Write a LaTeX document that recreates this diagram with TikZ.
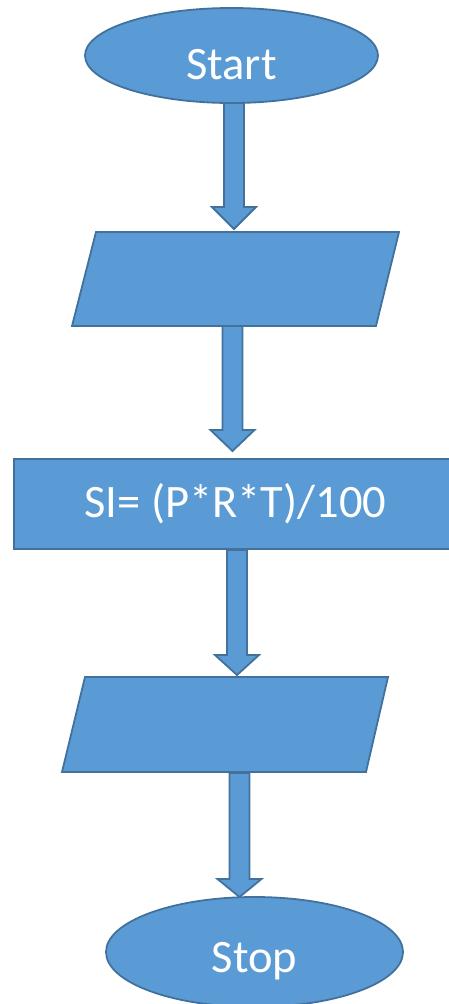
\documentclass[tikz,border=0pt]{standalone}
\usepackage{fontspec}
\setmainfont{Carlito}
\usetikzlibrary{shapes.geometric}
\definecolor{ofill}{HTML}{5B9BD5}
\definecolor{oline}{HTML}{41719C}
\begin{document}
\begin{tikzpicture}[x=1pt,y=-1pt,
  shapebox/.style={fill=ofill,draw=oline,line width=1.8pt,line join=miter},
  lbl/.style={text=white,font=\fontsize{46.5}{52}\selectfont,anchor=base,inner sep=0pt}]
\useasboundingbox (0,0) rectangle (448,1004);
% Start
\node[shapebox,ellipse,minimum width=293pt,minimum height=95pt,inner sep=0pt] (start) at (231.5,55.5) {};
\node[lbl] (starttxt) at (231.5,79) {Start};
% input parallelogram
\coordinate (p1a) at (96,232);
\coordinate (p1b) at (399,232);
\coordinate (p1c) at (376,326);
\coordinate (p1d) at (72,326);
\draw[shapebox] (p1a) -- (p1b) -- (p1c) -- (p1d) -- cycle;
% process
\node[shapebox,rectangle,minimum width=436pt,minimum height=90pt,inner sep=0pt] (proc) at (232,504) {};
\node[lbl] (proctxt) at (235.5,517) {SI= (P*R*T)/100};
% output parallelogram
\coordinate (p2a) at (85,677);
\coordinate (p2b) at (388,677);
\coordinate (p2c) at (366,772);
\coordinate (p2d) at (62,772);
\draw[shapebox] (p2a) -- (p2b) -- (p2c) -- (p2d) -- cycle;
% Stop
\node[shapebox,ellipse,minimum width=297pt,minimum height=110pt,inner sep=0pt] (stop) at (254.5,952) {};
\node[lbl] (stoptxt) at (254.5,972) {Stop};
% block arrows
\newcommand{\blkarrow}[4]{% x, ytop, yhead, ytip
  \draw[shapebox] (#1-10,#2) -- (#1+10,#2) -- (#1+10,#3) -- (#1+22,#3) -- (#1,#4) -- (#1-22,#3) -- (#1-10,#3) -- cycle;}
\blkarrow{234}{103}{207}{229}
\blkarrow{232.5}{326}{430}{451}
\blkarrow{237}{550}{655}{675}
\blkarrow{239.5}{773}{879}{897}
\end{tikzpicture}
\end{document}
